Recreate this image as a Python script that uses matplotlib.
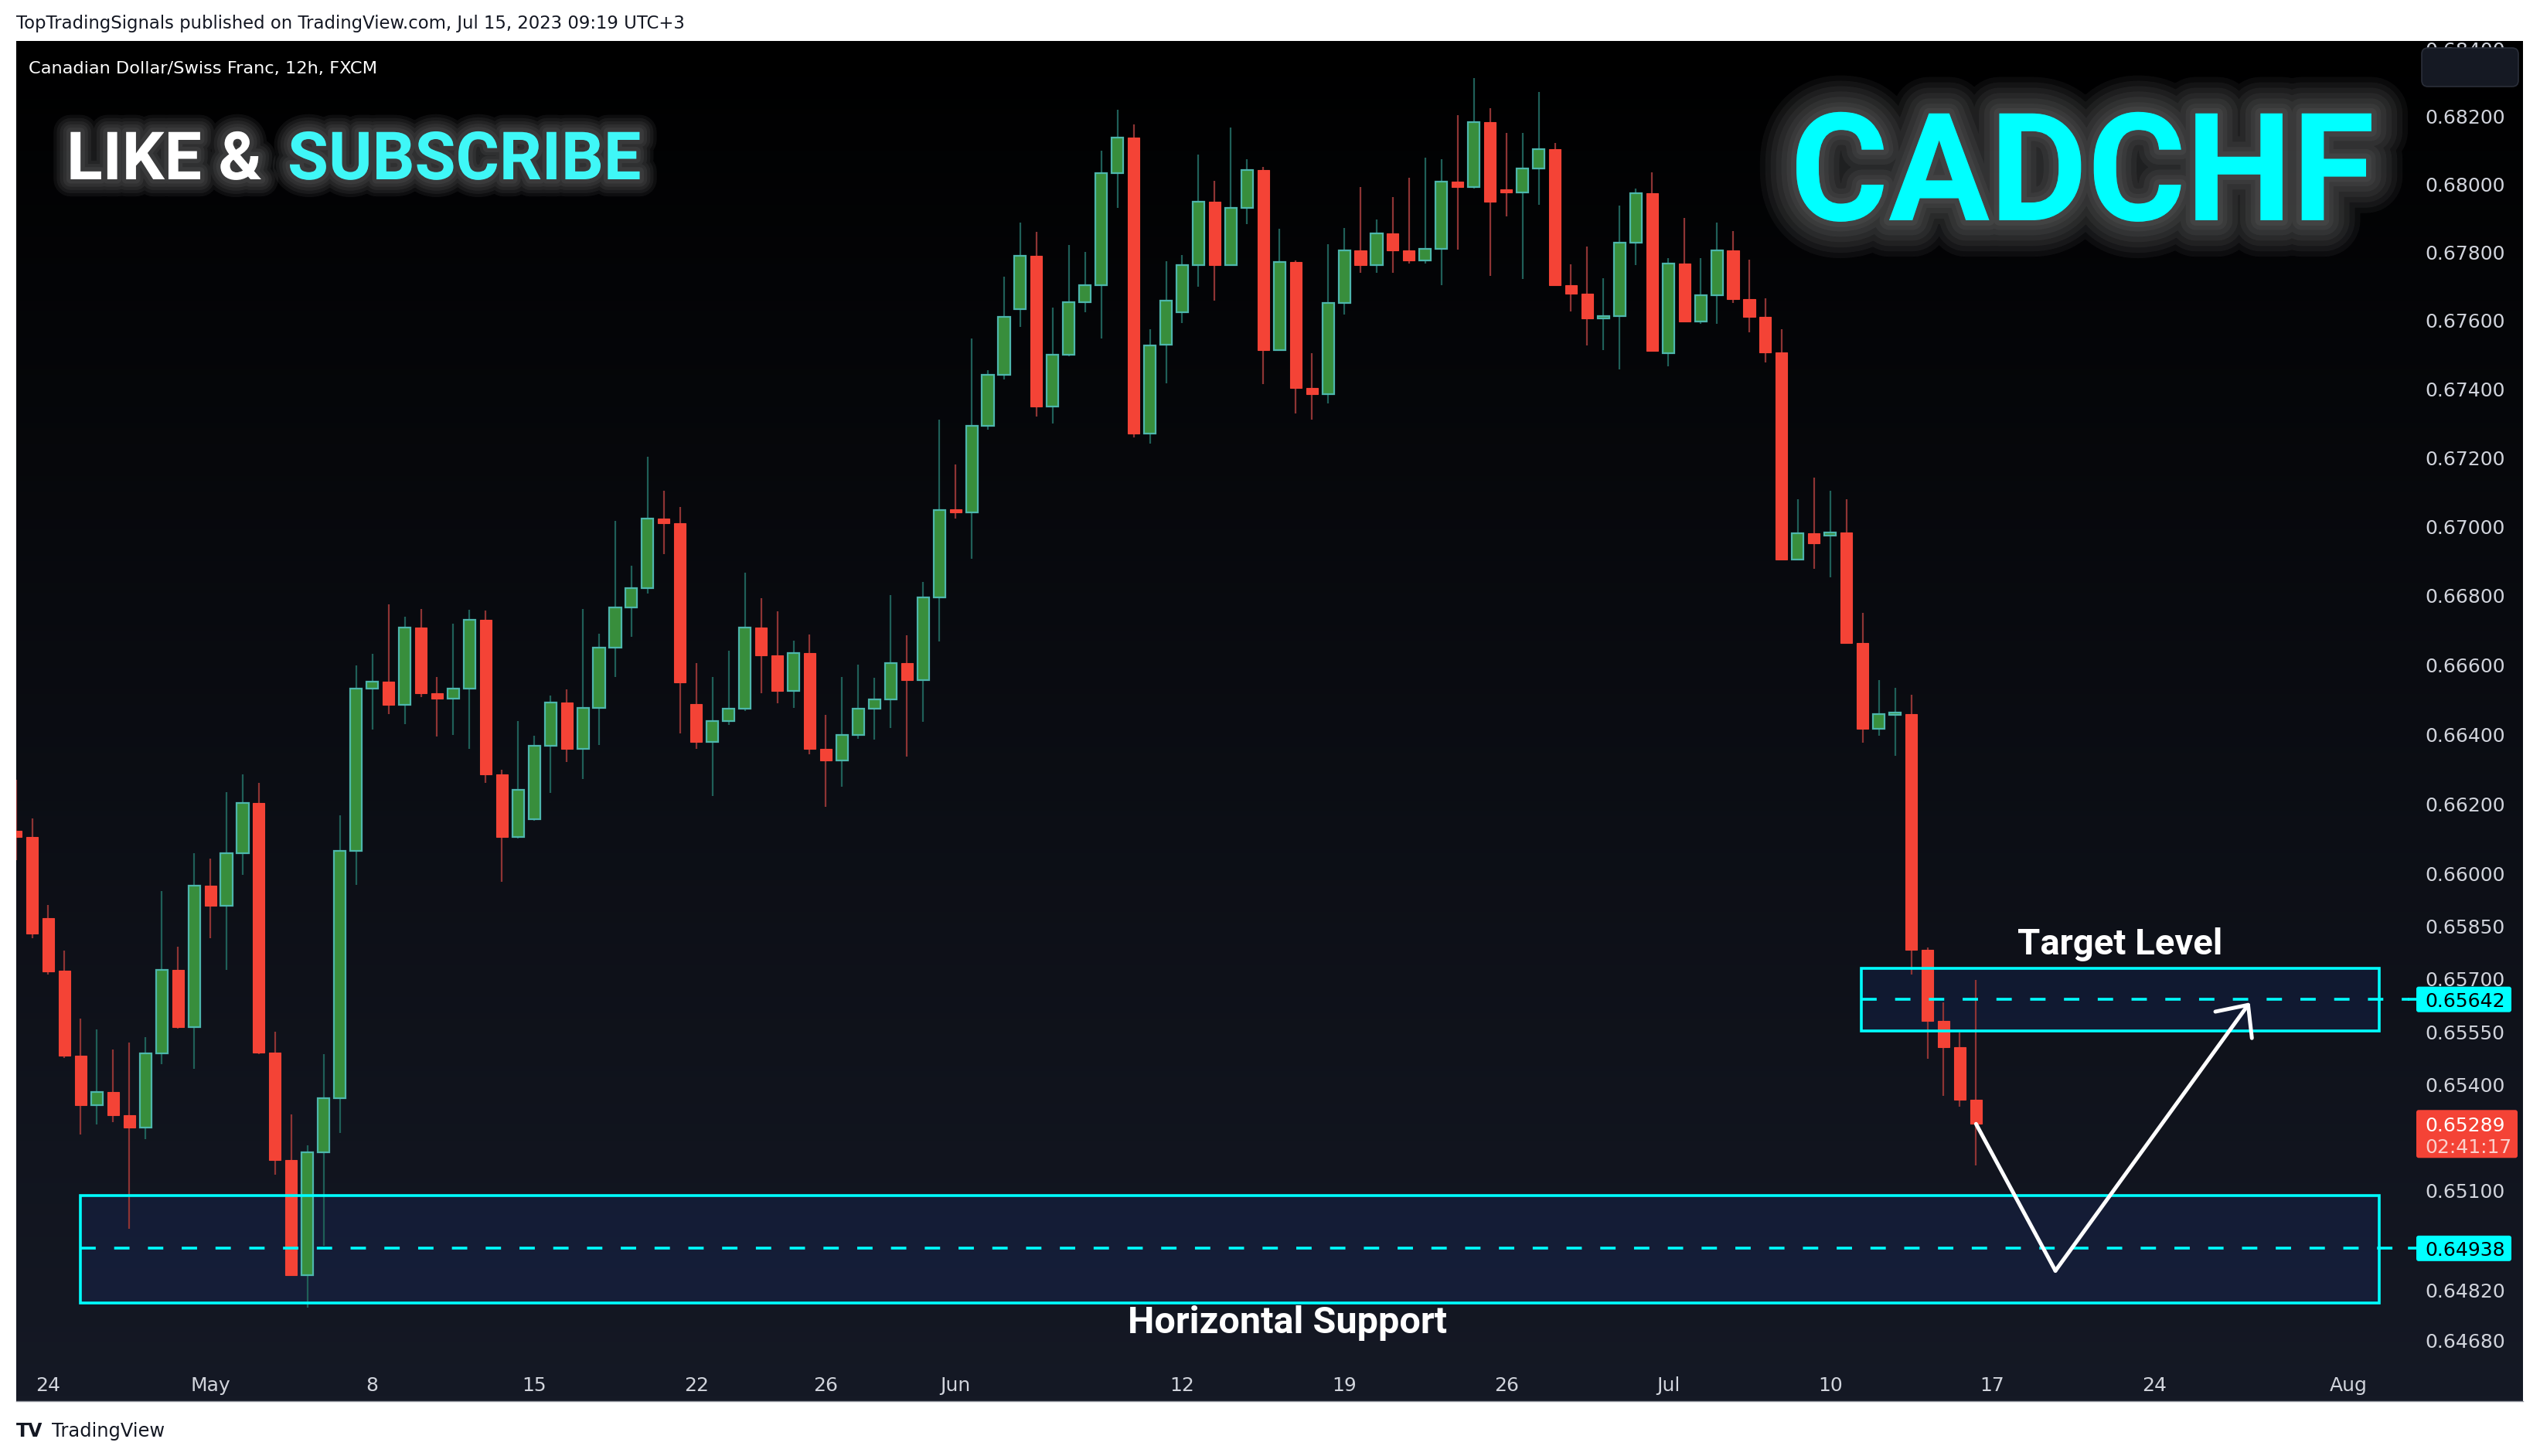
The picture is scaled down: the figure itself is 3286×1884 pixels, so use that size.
import matplotlib
matplotlib.use("Agg")
import matplotlib.pyplot as plt
import matplotlib.patheffects as pe
from matplotlib import font_manager
from matplotlib.colors import LinearSegmentedColormap
from matplotlib.patches import Rectangle, FancyBboxPatch
from matplotlib.ticker import FixedLocator, NullLocator, NullFormatter, FuncFormatter
import numpy as np

# CADCHF 12h bars, bar 0 = Apr 24 00:00 (weekends skipped, 10 bars per week)
first_bar = -2
opens = [0.66124, 0.66106, 0.65873, 0.65723, 0.65483, 0.65342, 0.65380, 0.65314, 0.65278, 0.65489,
         0.65727, 0.65564, 0.65967, 0.65909, 0.66059, 0.66203, 0.65491, 0.65186, 0.64863, 0.65209,
         0.65362, 0.66066, 0.66532, 0.66552, 0.66484, 0.66707, 0.66518, 0.66502, 0.66532, 0.66731,
         0.66285, 0.66105, 0.66156, 0.66366, 0.66491, 0.66357, 0.66475, 0.66649, 0.66766, 0.66822,
         0.67024, 0.67010, 0.66487, 0.66378, 0.66437, 0.66473, 0.66707, 0.66628, 0.66525, 0.66633,
         0.66359, 0.66325, 0.66397, 0.66474, 0.66500, 0.66605, 0.66556, 0.66795, 0.67050, 0.67042,
         0.67293, 0.67442, 0.67633, 0.67790, 0.67349, 0.67500, 0.67655, 0.67704, 0.68033, 0.68139,
         0.67270, 0.67530, 0.67624, 0.67763, 0.67949, 0.67763, 0.67932, 0.68042, 0.67514, 0.67773,
         0.67403, 0.67385, 0.67652, 0.67806, 0.67763, 0.67855, 0.67806, 0.67776, 0.67810, 0.68008,
         0.67992, 0.68183, 0.67986, 0.67976, 0.68048, 0.68104, 0.67705, 0.67680, 0.67606, 0.67613,
         0.67830, 0.67974, 0.67505, 0.67767, 0.67597, 0.67674, 0.67806, 0.67664, 0.67612, 0.67507,
         0.66905, 0.66980, 0.66974, 0.66984, 0.66663, 0.66416, 0.66455, 0.66457, 0.65784, 0.65580,
         0.65507, 0.65357]
highs = [0.66270, 0.66159, 0.65911, 0.65780, 0.65587, 0.65557, 0.65499, 0.65519, 0.65535, 0.65950,
         0.65793, 0.66058, 0.66043, 0.66234, 0.66285, 0.66260, 0.65551, 0.65316, 0.65228, 0.65487,
         0.66168, 0.66598, 0.66631, 0.66775, 0.66739, 0.66762, 0.66564, 0.66719, 0.66759, 0.66757,
         0.66298, 0.66438, 0.66395, 0.66512, 0.66530, 0.66762, 0.66689, 0.67016, 0.66887, 0.67202,
         0.67103, 0.67056, 0.66604, 0.66564, 0.66641, 0.66867, 0.66793, 0.66755, 0.66669, 0.66688,
         0.66455, 0.66566, 0.66600, 0.66563, 0.66802, 0.66685, 0.66839, 0.67312, 0.67180, 0.67548,
         0.67455, 0.67729, 0.67887, 0.67861, 0.67638, 0.67823, 0.67802, 0.68099, 0.68220, 0.68178,
         0.67575, 0.67775, 0.67793, 0.68089, 0.68010, 0.68167, 0.68074, 0.68052, 0.67870, 0.67776,
         0.67505, 0.67825, 0.67872, 0.67993, 0.67896, 0.67962, 0.68019, 0.68080, 0.68074, 0.68204,
         0.68315, 0.68225, 0.68153, 0.68151, 0.68272, 0.68122, 0.67766, 0.67818, 0.67724, 0.67937,
         0.67989, 0.68036, 0.67783, 0.67902, 0.67784, 0.67887, 0.67863, 0.67778, 0.67665, 0.67575,
         0.67080, 0.67143, 0.67103, 0.67079, 0.66750, 0.66557, 0.66533, 0.66514, 0.65790, 0.65634,
         0.65548, 0.65698]
lows = [0.66040, 0.65816, 0.65713, 0.65475, 0.65258, 0.65288, 0.65295, 0.64993, 0.65245, 0.65458,
        0.65560, 0.65446, 0.65816, 0.65727, 0.65996, 0.65486, 0.65146, 0.64860, 0.64771, 0.64945,
        0.65263, 0.65969, 0.66413, 0.66457, 0.66430, 0.66506, 0.66394, 0.66399, 0.66359, 0.66261,
        0.65978, 0.66102, 0.66151, 0.66232, 0.66320, 0.66272, 0.66369, 0.66565, 0.66680, 0.66806,
        0.66920, 0.66403, 0.66359, 0.66223, 0.66427, 0.66466, 0.66518, 0.66490, 0.66477, 0.66343,
        0.66192, 0.66250, 0.66387, 0.66385, 0.66419, 0.66336, 0.66436, 0.66667, 0.67024, 0.66907,
        0.67282, 0.67429, 0.67581, 0.67321, 0.67300, 0.67497, 0.67626, 0.67548, 0.67932, 0.67260,
        0.67242, 0.67416, 0.67593, 0.67699, 0.67658, 0.67762, 0.67884, 0.67415, 0.67512, 0.67330,
        0.67312, 0.67358, 0.67619, 0.67741, 0.67741, 0.67741, 0.67768, 0.67768, 0.67705, 0.67808,
        0.67988, 0.67732, 0.67905, 0.67723, 0.67941, 0.67703, 0.67627, 0.67527, 0.67515, 0.67457,
        0.67764, 0.67510, 0.67466, 0.67595, 0.67590, 0.67590, 0.67653, 0.67567, 0.67477, 0.66903,
        0.66903, 0.66878, 0.66852, 0.66662, 0.66376, 0.66396, 0.66338, 0.65713, 0.65473, 0.65368,
        0.65337, 0.65171]
closes = [0.66105, 0.65830, 0.65722, 0.65482, 0.65341, 0.65380, 0.65314, 0.65278, 0.65488, 0.65727,
          0.65564, 0.65967, 0.65909, 0.66059, 0.66203, 0.65491, 0.65186, 0.64863, 0.65209, 0.65362,
          0.66066, 0.66532, 0.66552, 0.66484, 0.66707, 0.66518, 0.66502, 0.66532, 0.66731, 0.66285,
          0.66105, 0.66240, 0.66366, 0.66491, 0.66357, 0.66475, 0.66649, 0.66766, 0.66822, 0.67024,
          0.67010, 0.66550, 0.66378, 0.66437, 0.66473, 0.66707, 0.66628, 0.66525, 0.66633, 0.66359,
          0.66325, 0.66397, 0.66474, 0.66500, 0.66605, 0.66556, 0.66795, 0.67049, 0.67042, 0.67293,
          0.67442, 0.67612, 0.67790, 0.67349, 0.67500, 0.67655, 0.67704, 0.68033, 0.68139, 0.67270,
          0.67528, 0.67658, 0.67763, 0.67949, 0.67763, 0.67932, 0.68042, 0.67514, 0.67773, 0.67403,
          0.67385, 0.67652, 0.67806, 0.67763, 0.67855, 0.67806, 0.67776, 0.67810, 0.68008, 0.67992,
          0.68183, 0.67950, 0.67976, 0.68048, 0.68104, 0.67705, 0.67680, 0.67606, 0.67613, 0.67830,
          0.67974, 0.67511, 0.67767, 0.67597, 0.67674, 0.67806, 0.67664, 0.67612, 0.67507, 0.66905,
          0.66980, 0.66951, 0.66984, 0.66663, 0.66416, 0.66457, 0.66461, 0.65784, 0.65580, 0.65507,
          0.65357, 0.65289]

price_ticks = [0.68400, 0.68200, 0.68000, 0.67800, 0.67600, 0.67400, 0.67200, 0.67000, 0.66800,
               0.66600, 0.66400, 0.66200, 0.66000, 0.65850, 0.65700, 0.65550, 0.65400, 0.65100,
               0.64820, 0.64680]
time_tick_bars = [0, 10, 20, 30, 40, 48, 56, 70, 80, 90, 100, 110, 120, 130, 142]
time_tick_labels = ["24", "May", "8", "15", "22", "26", "Jun", "12", "19", "26", "Jul", "10", "17", "24", "Aug"]

# drawings
target_zone = (111.9, 143.9, 0.65553, 0.65731)   # bar from, bar to, price low, price high
target_level = 0.65642
support_zone = (2.0, 143.9, 0.64784, 0.65087)
support_level = 0.64938
last_price = 0.65289
countdown = "02:41:17"
path_bars = [119, 123.9, 135.9]
path_prices = [0.65289, 0.64875, 0.65633]

header = "TopTradingSignals published on TradingView.com, Jul 15, 2023 09:19 UTC+3"
symbol_title = "Canadian Dollar/Swiss Franc, 12h, FXCM"

W, H, DPI = 3286, 1884, 200
CYAN = "#00ffff"
RED = "#f44336"
GREEN = "#388e3c"
AXIS_TXT = "#d1d4dc"
AXIS_FS = 9

available = {f.name for f in font_manager.fontManager.ttflist}
narrow = "Liberation Sans Narrow" if "Liberation Sans Narrow" in available else "Roboto"
plt.rcParams["font.family"] = ["DejaVu Sans"]

fig = plt.figure(figsize=(W / DPI, H / DPI), dpi=DPI, facecolor="white")

# gradient panel behind the chart
bg = fig.add_axes([21 / W, 1 - 1813 / H, (3264 - 21) / W, (1813 - 53) / H], zorder=0)
cmap = LinearSegmentedColormap.from_list("panel", ["#000000", "#151925"])
bg.imshow(np.linspace(0, 1, 256)[:, None], cmap=cmap, aspect="auto")
bg.axis("off")

ax = fig.add_axes([21 / W, 1 - 1756 / H, (3117 - 21) / W, (1756 - 53) / H], zorder=1)
ax.patch.set_visible(False)
for s in ax.spines.values():
    s.set_visible(False)
ax.set_yscale("log")
ax.set_ylim(0.64633, 0.68424)
ax.set_xlim(-1.98, 145.75)

o = np.array(opens); h = np.array(highs); l = np.array(lows); c = np.array(closes)
idx = np.arange(first_bar, first_bar + len(o))
up = c >= o
bottom = np.minimum(o, c)
top = np.maximum(np.maximum(o, c), bottom * 1.0001)

ax.vlines(idx[up], l[up], h[up], color="#1f5f58", lw=0.8, zorder=2)
ax.vlines(idx[~up], l[~up], h[~up], color="#8e3434", lw=0.8, zorder=2)
ax.bar(idx[up], (top - bottom)[up], bottom=bottom[up], width=0.72,
       color=GREEN, edgecolor="#4db6ac", linewidth=0.8, zorder=3)
ax.bar(idx[~up], (top - bottom)[~up], bottom=bottom[~up], width=0.72,
       color=RED, edgecolor=RED, linewidth=0.4, zorder=3)

# zones with dashed level rays
for (x0, x1, p0, p1), lvl in [(support_zone, support_level), (target_zone, target_level)]:
    ax.add_patch(Rectangle((x0, p0), x1 - x0, p1 - p0, facecolor="#2962ff", alpha=0.1,
                           edgecolor="none", zorder=1))
    ax.add_patch(Rectangle((x0, p0), x1 - x0, p1 - p0, facecolor="none",
                           edgecolor=CYAN, lw=1.3, zorder=4))
    ax.plot([x0, 145.75], [lvl, lvl], color=CYAN, lw=1.3, dashes=(5.5, 6.6), zorder=4)

# projected path
ax.plot(path_bars[:2], path_prices[:2], color="white", lw=1.8, solid_capstyle="round", zorder=6)
ax.annotate("", xy=(path_bars[2], path_prices[2]), xytext=(path_bars[1], path_prices[1]),
            arrowprops=dict(arrowstyle="->,head_length=1.15,head_width=1.05", color="white",
                            lw=1.8, shrinkA=0, shrinkB=0), zorder=6)

ax.text((target_zone[0] + target_zone[1]) / 2, 0.65771, "Target Level", ha="center",
        va="baseline", color="white", fontsize=17, fontweight="bold", family="Roboto", zorder=7)
ax.text(76.5, 0.64701, "Horizontal Support", ha="center", va="baseline", color="white",
        fontsize=17.5, fontweight="bold", family="Roboto", zorder=7)

# axes ticks
ax.yaxis.tick_right()
ax.yaxis.set_major_locator(FixedLocator(price_ticks))
ax.yaxis.set_minor_locator(NullLocator())
ax.yaxis.set_minor_formatter(NullFormatter())
ax.yaxis.set_major_formatter(FuncFormatter(lambda v, _: f"{v:.5f}"))
ax.tick_params(axis="y", length=0, pad=7.2, labelsize=AXIS_FS, labelcolor=AXIS_TXT)
ax.set_xticks(time_tick_bars)
ax.set_xticklabels(time_tick_labels)
ax.tick_params(axis="x", length=0, pad=9.0, labelsize=AXIS_FS, labelcolor=AXIS_TXT)

# overlay in pixel coordinates
ov = fig.add_axes([0, 0, 1, 1], zorder=5)
ov.set_xlim(0, W)
ov.set_ylim(H, 0)
ov.axis("off")


def y_px(price):
    return H - ax.transData.transform((0, price))[1]


ov.text(21, 37, header, ha="left", va="baseline", fontsize=8.2, color="#131722")
ov.text(37, 95, symbol_title, ha="left", va="baseline", fontsize=8.1, color="white")


def glow(widths, alpha):
    return [pe.Stroke(linewidth=w, foreground="white", alpha=alpha, joinstyle="round")
            for w in widths] + [pe.Normal()]


glow_small = glow((16, 13, 10, 7, 4), 0.05)
glow_big = glow((34, 29, 24, 19, 14, 9, 5), 0.045)

ov.text(86, 232, "LIKE &", ha="left", va="baseline", color="white", fontsize=31,
        fontweight="bold", family=narrow, path_effects=glow_small)
ov.text(372, 232, "SUBSCRIBE", ha="left", va="baseline", color="#3ff7f7", fontsize=31,
        fontweight="bold", family=narrow, path_effects=glow_small)
ov.text(2694, 285, "CADCHF", ha="center", va="baseline", color=CYAN, fontsize=70,
        fontweight="bold", family="Roboto", path_effects=glow_big)

# toolbar button covering the top tick
ov.add_patch(FancyBboxPatch((3133, 62), 125, 50, boxstyle="round,pad=0,rounding_size=8",
                            facecolor="#151923", edgecolor="#2a2e39", lw=0.6))

# level labels on the price scale
for lvl in (target_level, support_level):
    yp = y_px(lvl)
    ov.plot([3117, 3126], [yp, yp], color=CYAN, lw=1.3)
    ov.add_patch(FancyBboxPatch((3126, yp - 16.5), 123, 33, boxstyle="round,pad=0,rounding_size=3",
                                facecolor=CYAN, edgecolor="none"))
    ov.text(3137, yp, f"{lvl:.5f}", ha="left", va="center_baseline", fontsize=AXIS_FS, color="black")

yp = y_px(last_price)
ov.add_patch(FancyBboxPatch((3126, yp - 18), 131, 62, boxstyle="round,pad=0,rounding_size=3",
                            facecolor=RED, edgecolor="none"))
ov.text(3137, yp, f"{last_price:.5f}", ha="left", va="center_baseline", fontsize=AXIS_FS, color="white")
ov.text(3137, yp + 28, countdown, ha="left", va="center_baseline", fontsize=AXIS_FS, color="#fbd0cc")

ov.plot([21, 3264], [1812.5, 1812.5], color="#9598a1", lw=0.5)
ov.text(21, 1859, "TV", ha="left", va="baseline", fontsize=8.5, fontweight="heavy", color="#131722")
ov.text(67, 1859, "TradingView", ha="left", va="baseline", fontsize=8.7, color="#131722")

fig.savefig("out.png", dpi=DPI, facecolor="white")
